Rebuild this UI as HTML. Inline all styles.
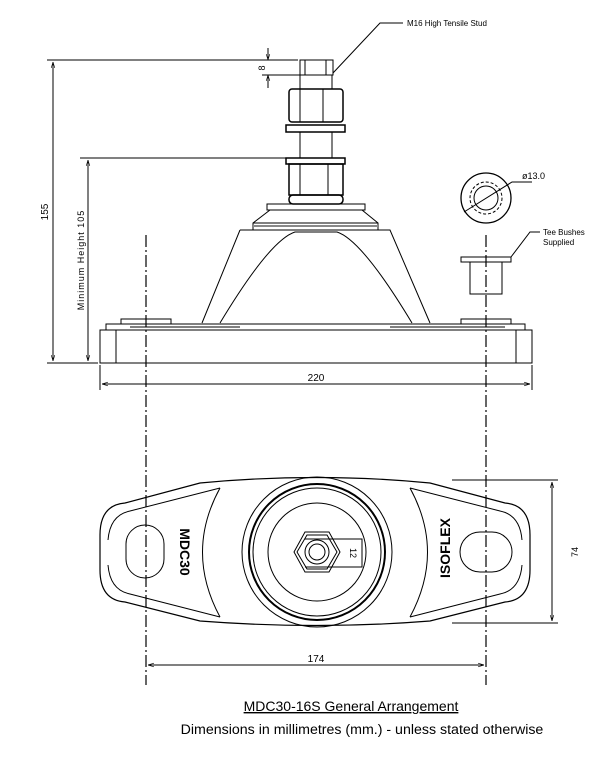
<!DOCTYPE html>
<html><head><style>body{margin:0;background:#fff}svg{display:block}</style></head><body>
<svg width="600" height="758" viewBox="0 0 600 758" xmlns="http://www.w3.org/2000/svg" font-family="Liberation Sans, sans-serif">
<defs><marker id="a" viewBox="0 0 10 10" refX="10" refY="5" markerWidth="6" markerHeight="6" orient="auto-start-reverse"><path d="M0,2 L10,5 L0,8" fill="none" stroke="#000"/></marker></defs>
<g fill="none" stroke="#000" stroke-width="1">
<g stroke-dasharray="12,3,2,3" stroke-width="1.2"><line x1="146" y1="235" x2="146" y2="685"/><line x1="486" y1="235" x2="486" y2="685"/></g>
<rect x="300" y="60" width="33" height="15"/><rect x="305" y="60" width="21" height="15"/>
<line x1="300" y1="75" x2="300" y2="89"/><line x1="332" y1="75" x2="332" y2="89"/>
<rect x="289" y="89" width="54" height="33" rx="3" stroke-width="1.5"/><line x1="300" y1="89" x2="300" y2="122"/><line x1="323" y1="89" x2="323" y2="122"/>
<rect x="286" y="125" width="59" height="7" stroke-width="1.5"/>
<line x1="300" y1="132" x2="300" y2="158"/><line x1="332" y1="132" x2="332" y2="158"/>
<rect x="286" y="158" width="59" height="6" stroke-width="1.5"/>
<rect x="289" y="164" width="54" height="31" stroke-width="1.5"/><line x1="300" y1="164" x2="300" y2="195"/><line x1="328" y1="164" x2="328" y2="195"/>
<rect x="289" y="195" width="54" height="9" rx="4" stroke-width="1.5"/>
<rect x="267" y="204" width="98" height="6"/>
<path d="M270,210 L253,223 L253,230 L378,230 L378,223 L362,210"/><line x1="253" y1="223" x2="378" y2="223"/><line x1="253" y1="226" x2="378" y2="226" stroke="#888" stroke-width="2"/>
<path d="M240,230 L390,230 L430,323 M240,230 L202,323"/>
<path d="M220,323 Q270,240 295,232 L337,232 Q362,240 412,323"/>
<rect x="100" y="330" width="432" height="33"/><line x1="116" y1="330" x2="116" y2="363"/><line x1="516" y1="330" x2="516" y2="363"/>
<path d="M106,330 L106,324 L525,324 L525,330"/><line x1="130" y1="327" x2="240" y2="327"/><line x1="390" y1="327" x2="505" y2="327"/>
<rect x="121" y="319" width="50" height="5"/><rect x="461" y="319" width="50" height="5"/>
<line x1="47" y1="60" x2="298" y2="60"/><line x1="47" y1="363" x2="98" y2="363"/>
<line x1="53" y1="62" x2="53" y2="361" marker-start="url(#a)" marker-end="url(#a)"/>
<line x1="80" y1="158" x2="287" y2="158"/>
<line x1="88" y1="160" x2="88" y2="361" marker-start="url(#a)" marker-end="url(#a)"/>
<line x1="268" y1="48" x2="268" y2="60" marker-end="url(#a)"/><line x1="268" y1="88" x2="268" y2="75" marker-end="url(#a)"/><line x1="262" y1="75" x2="300" y2="75"/>
<line x1="100" y1="365" x2="100" y2="390"/><line x1="532" y1="365" x2="532" y2="390"/>
<line x1="102" y1="384" x2="530" y2="384" marker-start="url(#a)" marker-end="url(#a)"/>
<polyline points="333,73 380,23 403,23"/>
<circle cx="486" cy="198" r="25" stroke-width="1.3"/><circle cx="486" cy="198" r="16" stroke-dasharray="3,2"/><circle cx="486" cy="198" r="12"/>
<polyline points="464,212 512,182 532,182"/>
<rect x="461" y="257" width="50" height="5"/><polyline points="470,262 470,294 502,294 502,262"/>
<polyline points="511,257 530,232 540,232"/>
<path d="M100,535 Q100,505 125,503 L200,483 Q317,472 430,483 L505,503 Q530,505 530,535 L530,570 Q530,600 505,602 L430,621 Q317,630 200,621 L125,602 Q100,600 100,570 Z" stroke-width="1.2"/>
<path d="M108,540 Q110,515 130,511 L220,488 M108,565 Q110,590 130,594 L220,617 M522,540 Q520,515 500,511 L410,488 M522,565 Q520,590 500,594 L410,617"/>
<path d="M220,488 Q185,552 220,617 M410,488 Q445,552 410,617"/>
<circle cx="317" cy="552" r="75"/><circle cx="317" cy="552" r="68" stroke-width="2"/><circle cx="317" cy="552" r="64"/><circle cx="317" cy="552" r="49"/>
<polygon points="340,552 329,572 305,572 294,552 305,532 329,532"/><polygon points="337,552 327,569 307,569 297,552 307,535 327,535"/>
<circle cx="317" cy="552" r="12"/><circle cx="317" cy="552" r="8"/>
<polyline points="305,539 362,539 362,567 305,567"/>
<rect x="126" y="525" width="38" height="53" rx="19"/><rect x="460" y="532" width="52" height="40" rx="20"/>
<line x1="452" y1="480" x2="558" y2="480"/><line x1="452" y1="623" x2="558" y2="623"/>
<line x1="552" y1="482" x2="552" y2="621" marker-start="url(#a)" marker-end="url(#a)"/>
<line x1="148" y1="665" x2="484" y2="665" marker-start="url(#a)" marker-end="url(#a)"/>
</g>
<g font-size="8" fill="#000">
<text x="407" y="26">M16 High Tensile Stud</text>
<text x="522" y="179" font-size="9">ø13.0</text>
<text x="543" y="235">Tee Bushes</text><text x="543" y="245">Supplied</text>
<text transform="translate(265,68) rotate(-90)" text-anchor="middle" font-size="9">8</text>
<text transform="translate(48,212) rotate(-90)" text-anchor="middle" font-size="10">155</text>
<text transform="translate(84,260) rotate(-90)" text-anchor="middle" font-size="9" letter-spacing="1">Minimum Height 105</text>
<text x="316" y="381" text-anchor="middle" font-size="10">220</text>
<text x="316" y="662" text-anchor="middle" font-size="10">174</text>
<text transform="translate(578,552) rotate(-90)" text-anchor="middle" font-size="9">74</text>
<text transform="translate(350,553) rotate(90)" text-anchor="middle" font-size="9">12</text>
<text transform="translate(180,552) rotate(90)" text-anchor="middle" font-size="14" font-weight="bold">MDC30</text>
<text transform="translate(450,548) rotate(-90)" text-anchor="middle" font-size="14" font-weight="bold">ISOFLEX</text>
</g>
<text x="351" y="711" text-anchor="middle" font-size="14" text-decoration="underline">MDC30-16S General Arrangement</text>
<text x="362" y="734" text-anchor="middle" font-size="14.2">Dimensions in millimetres (mm.) - unless stated otherwise</text>
</svg>
</body></html>
